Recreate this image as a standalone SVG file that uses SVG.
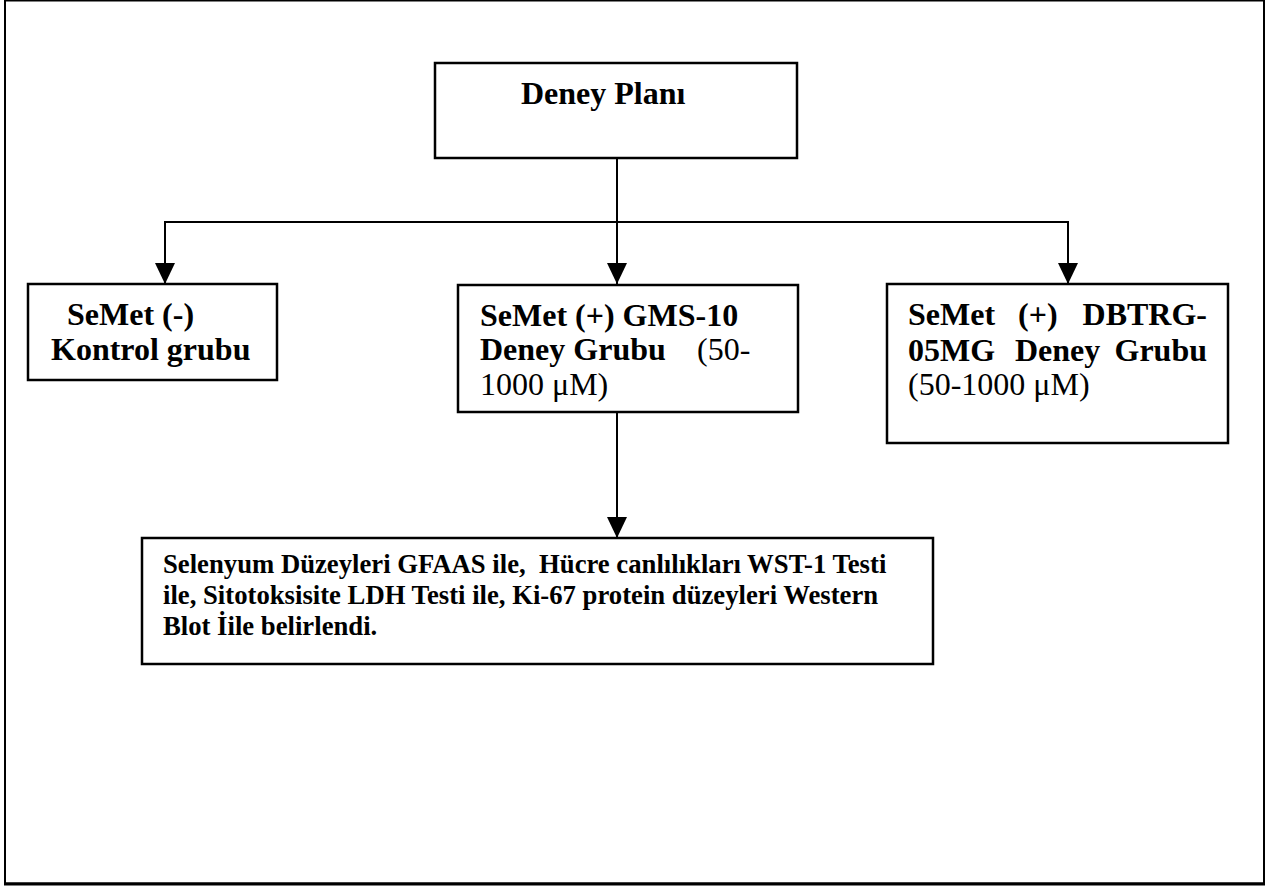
<svg xmlns="http://www.w3.org/2000/svg" width="1268" height="888" viewBox="0 0 1268 888">
<style>
.box{fill:#fff;stroke:#000;stroke-width:2.5}
.t{font-family:"Liberation Serif","Times New Roman",serif;font-size:32px;fill:#000}
.b{font-weight:bold}
.s{font-size:26.7px}
.c{fill:none;stroke:#000;stroke-width:2}
</style>
<defs>
<marker id="ah" markerUnits="userSpaceOnUse" markerWidth="22" markerHeight="20" refX="21" refY="10" orient="auto">
<path d="M0,0 L21,10 L0,20 Z" fill="#000"/>
</marker>
</defs>
<rect x="0" y="0" width="1268" height="888" fill="#fff"/>
<g id="frame">
<rect x="5" y="0.5" width="1259" height="883" fill="none" stroke="#000" stroke-width="2"/>
<line x1="4" y1="884" x2="1265" y2="884" stroke="#000" stroke-width="3"/>
</g>
<g id="connectors">
<line class="c" x1="617" y1="158" x2="617" y2="284" marker-end="url(#ah)"/>
<line class="c" x1="164" y1="222" x2="1069" y2="222"/>
<line class="c" x1="165" y1="222" x2="165" y2="284" marker-end="url(#ah)"/>
<line class="c" x1="1068" y1="222" x2="1068" y2="284" marker-end="url(#ah)"/>
<line class="c" x1="617" y1="412" x2="617" y2="538" marker-end="url(#ah)"/>
</g>
<g id="deney-plani">
<rect class="box" x="435" y="63" width="362" height="95"/>
<text class="t b" x="521" y="104">Deney Planı</text>
</g>
<g id="kontrol">
<rect class="box" x="28" y="284" width="249" height="96"/>
<text class="t b" x="67" y="325">SeMet (-)</text>
<text class="t b" x="51" y="360">Kontrol grubu</text>
</g>
<g id="gms10">
<rect class="box" x="458" y="285" width="340" height="127"/>
<text class="t b" x="480" y="326">SeMet (+) GMS-10</text>
<text class="t" x="480" y="360"><tspan class="b">Deney Grubu</tspan><tspan x="697">(50-</tspan></text>
<text class="t" x="480" y="395">1000 μM)</text>
</g>
<g id="dbtrg">
<rect class="box" x="887" y="284" width="341" height="159"/>
<text class="t b" y="325"><tspan x="908">SeMet</tspan><tspan x="1018">(+)</tspan></text>
<text class="t b" x="1207" y="325" text-anchor="end">DBTRG-</text>
<text class="t b" y="361"><tspan x="908">05MG</tspan><tspan x="1015">Deney</tspan></text>
<text class="t b" x="1207" y="361" text-anchor="end">Grubu</text>
<text class="t" x="908" y="395">(50-1000 μM)</text>
</g>
<g id="sonuc">
<rect class="box" x="142" y="538" width="791" height="126"/>
<text class="t b s" x="163" y="573" xml:space="preserve">Selenyum Düzeyleri GFAAS ile,  Hücre canlılıkları WST-1 Testi</text>
<text class="t b s" x="163" y="604">ile, Sitotoksisite LDH Testi ile, Ki-67 protein düzeyleri Western</text>
<text class="t b s" x="163" y="635">Blot İile belirlendi.</text>
</g>
</svg>
